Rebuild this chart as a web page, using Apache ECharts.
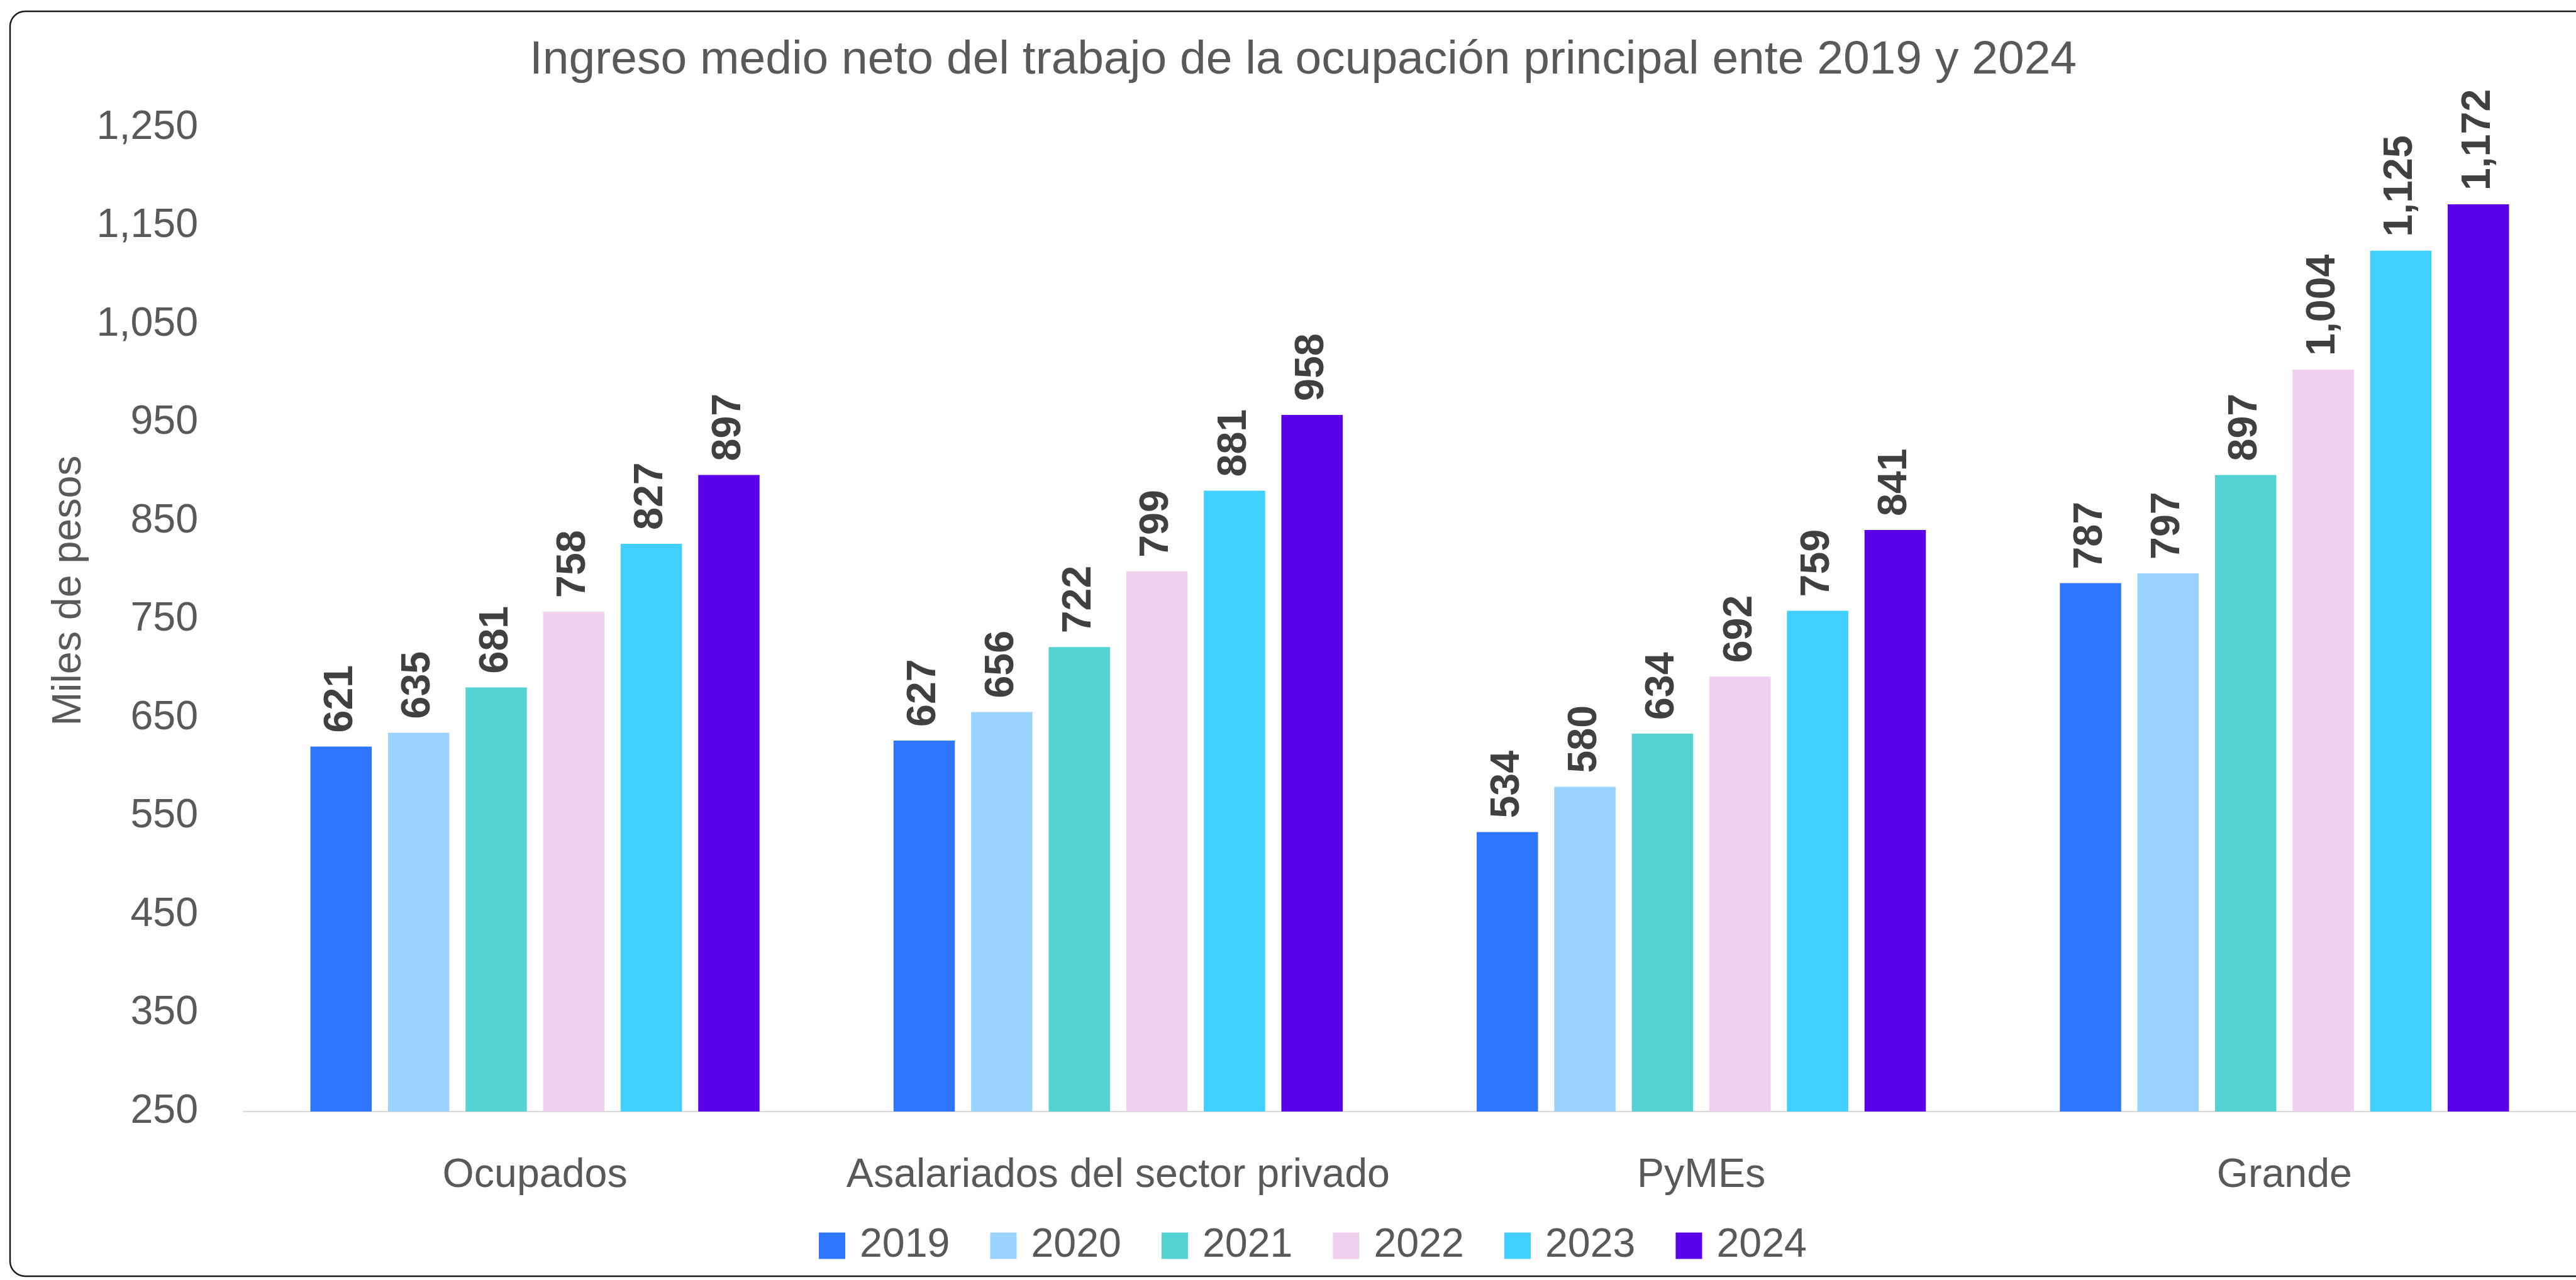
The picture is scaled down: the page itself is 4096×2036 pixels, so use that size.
<!DOCTYPE html>
<html>
<head>
<meta charset="utf-8">
<script src="https://cdn.jsdelivr.net/npm/echarts@6/dist/echarts.min.js"></script>
<style>
  html, body { margin: 0; padding: 0; background: #fff; }
  #main { width: 4096px; height: 2036px; }
</style>
</head>
<body>
<div id="main"></div>
<script>
var categories = ['Ocupados', 'Asalariados del sector privado', 'PyMEs', 'Grande'];
var years = ['2019', '2020', '2021', '2022', '2023', '2024'];
var v2019 = [621, 627, 534, 787];
var v2020 = [635, 656, 580, 797];
var v2021 = [681, 722, 634, 897];
var v2022 = [758, 799, 692, 1004];
var v2023 = [827, 881, 759, 1125];
var v2024 = [897, 958, 841, 1172];
var yearValues = [v2019, v2020, v2021, v2022, v2023, v2024];
var colors = ['#2E75FF', '#9BD3FF', '#55D3D3', '#F0D0EE', '#40CFFF', '#5B00EB'];

var FONT = '"Liberation Sans", Arial, sans-serif';
var fmt = function (v) { return Number(v).toLocaleString('en-US'); };

var myChart = echarts.init(document.getElementById('main'));

var series = years.map(function (y, i) {
  return {
    name: y,
    type: 'bar',
    data: yearValues[i],
    barWidth: 97.5,
    barGap: '26.5%',
    itemStyle: { color: colors[i] },
    label: {
      show: true,
      position: 'top',
      rotate: 90,
      align: 'left',
      verticalAlign: 'middle',
      distance: 22,
      color: '#404040',
      fontWeight: 'bold',
      fontFamily: FONT,
      fontSize: 64.5,
      formatter: function (p) { return fmt(p.value); }
    }
  };
});

var option = {
  animation: false,
  backgroundColor: '#ffffff',
  title: {
    text: 'Ingreso medio neto del trabajo de la ocupación principal ente 2019 y 2024',
    left: 837,
    top: 54,
    textStyle: { color: '#595959', fontWeight: 'normal', fontFamily: FONT, fontSize: 75 }
  },
  legend: {
    data: years,
    left: 1297,
    top: 1944,
    icon: 'rect',
    itemWidth: 42,
    itemHeight: 42,
    itemGap: 64,
    textStyle: { color: '#595959', fontFamily: FONT, fontSize: 64.5, padding: [0, 0, 0, 18] }
  },
  grid: { left: 387, top: 203, width: 3712, height: 1565, containLabel: false },
  xAxis: {
    type: 'category',
    data: categories,
    axisTick: { show: false },
    axisLine: { lineStyle: { color: '#D9D9D9', width: 2 } },
    axisLabel: { interval: 0, color: '#595959', fontFamily: FONT, fontSize: 64.5, margin: 70 }
  },
  yAxis: {
    type: 'value',
    min: 250,
    max: 1250,
    interval: 100,
    name: 'Miles de pesos',
    nameLocation: 'middle',
    nameGap: 232,
    nameTextStyle: { color: '#595959', fontFamily: FONT, fontSize: 64.5, padding: [0, 0, 0, 92] },
    splitLine: { show: false },
    axisLine: { show: false },
    axisTick: { show: false },
    axisLabel: { color: '#595959', fontFamily: FONT, fontSize: 64.5, margin: 72, formatter: fmt }
  },
  graphic: [{
    type: 'rect',
    z: 100,
    silent: true,
    shape: { x: 16, y: 18, width: 4200, height: 2012, r: 24 },
    style: { fill: 'none', stroke: '#1a1a1a', lineWidth: 2.5 }
  }],
  series: series
};
myChart.setOption(option);
</script>
</body>
</html>
